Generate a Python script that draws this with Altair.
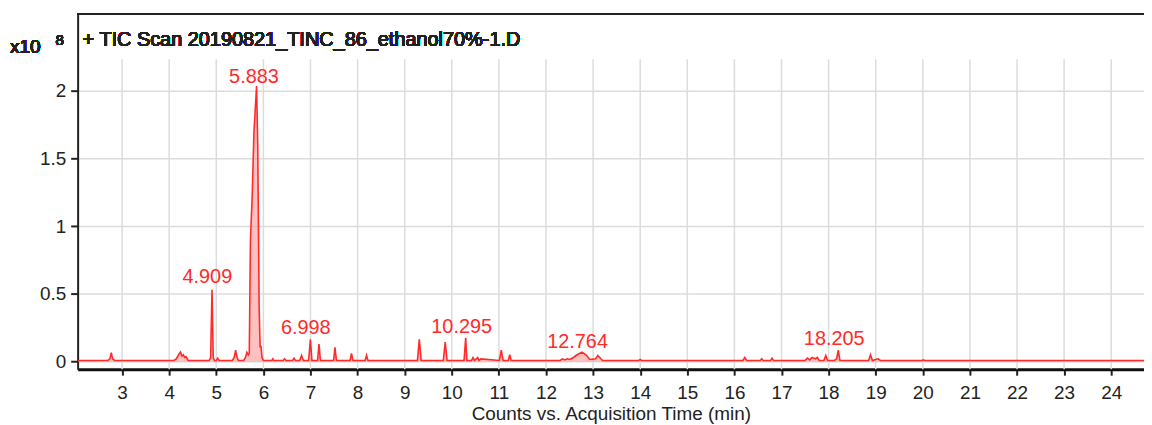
import altair as alt
import pandas as pd

B = 0.008
# chromatogram vertices (time in min, counts in units of 1e8)
trace_t = [2.06, 2.70, 2.74, 2.77, 2.80, 2.84,
           4.10, 4.15, 4.20, 4.24, 4.27, 4.30, 4.33, 4.36, 4.40,
           4.85, 4.88, 4.909, 4.935, 4.96,
           5.00, 5.03, 5.06,
           5.34, 5.38, 5.41, 5.44, 5.47,
           5.58, 5.62, 5.65, 5.68, 5.70, 5.725, 5.76, 5.80, 5.855, 5.88, 5.91, 5.93, 5.95, 5.97, 6.00,
           6.18, 6.20, 6.22, 6.42, 6.45, 6.48, 6.62, 6.65, 6.68, 6.77, 6.81, 6.85,
           6.96, 6.998, 7.03, 7.15, 7.18, 7.21, 7.49, 7.52, 7.55, 7.84, 7.87, 7.90, 8.16, 8.19, 8.22,
           9.27, 9.31, 9.35, 9.82, 9.86, 9.90, 10.26, 10.295, 10.32,
           10.42, 10.45, 10.48, 10.52, 10.55, 10.58, 10.62,
           11.01, 11.05, 11.09, 11.20, 11.23, 11.26,
           12.30, 12.35, 12.40, 12.45, 12.50, 12.58, 12.66, 12.764, 12.85, 12.93, 13.05, 13.10, 13.14, 13.20,
           13.97, 14.00, 14.03,
           16.18, 16.22, 16.26, 16.55, 16.58, 16.61, 16.77, 16.80, 16.83,
           17.50, 17.55, 17.60, 17.65, 17.72, 17.76, 17.80, 17.90, 17.94, 17.98, 18.12, 18.17, 18.205, 18.24,
           18.85, 18.89, 18.93, 19.00, 19.05, 19.10,
           19.98, 20.01, 20.04, 24.75]
trace_v = [B, B, 0.02, 0.066, 0.02, B,
           B, 0.02, 0.05, 0.07, 0.04, 0.05, 0.03, 0.035, B,
           B, 0.03, 0.531, 0.03, B,
           B, 0.025, B,
           B, 0.03, 0.085, 0.03, B,
           B, 0.03, 0.068, 0.05, 0.06, 0.898, 1.2, 1.7, 2.036, 1.6, 0.4, 0.11, 0.11, 0.03, B,
           B, 0.02, B, B, 0.02, B, B, 0.025, B, B, 0.045, B,
           B, 0.164, B, B, 0.13, B, B, 0.105, B, B, 0.06, B, B, 0.046, B,
           B, 0.164, B, B, 0.144, B, B, 0.176, B,
           B, 0.03, B, 0.02, 0.03, B, 0.02,
           B, 0.085, B, B, 0.05, B,
           B, 0.02, 0.012, 0.02, 0.015, 0.03, 0.05, 0.07, 0.05, 0.015, 0.02, 0.045, 0.03, B,
           B, 0.015, B,
           B, 0.03, B, B, 0.02, B, B, 0.025, B,
           B, 0.025, 0.012, 0.03, 0.02, 0.03, B, B, 0.045, B, B, 0.02, 0.085, B,
           B, 0.05, B, 0.015, 0.02, B,
           B, 0.012, B, B]

label_text = ["5.883", "4.909", "6.998", "10.295", "12.764", "18.205"]
label_t = [5.80, 4.81, 6.90, 10.21, 12.67, 18.12]
label_v = [2.058, 0.582, 0.20, 0.213, 0.103, 0.12]

x_ticks = list(range(3, 25))
y_ticks = [0, 0.5, 1, 1.5, 2]
GRID_TOP = 2.234
X_DOM = [2.056, 24.696]
Y_DOM = [-0.0565, 2.567]

W, H = 1072, 357
FONT = "Liberation Sans"

trace = pd.DataFrame({"t": trace_t, "v": trace_v})
labels = pd.DataFrame({"t": label_t, "v": label_v, "txt": label_text})
grid = pd.DataFrame({"t": x_ticks, "top": [GRID_TOP] * len(x_ticks), "bot": [Y_DOM[0]] * len(x_ticks)})

xs = alt.Scale(domain=X_DOM, nice=False, zero=False)
ys = alt.Scale(domain=Y_DOM, nice=False, zero=False)

xaxis = alt.Axis(values=x_ticks, grid=False, title="Counts vs. Acquisition Time (min)",
                 labelFont=FONT, labelFontSize=19, labelColor="#222", labelFontWeight="normal",
                 titleFont=FONT, titleFontSize=19, titleFontWeight="normal", titleColor="#222",
                 tickColor="#222", tickSize=6, tickWidth=2, domainColor="#111", domainWidth=3,
                 labelPadding=8, titlePadding=3)
yaxis = alt.Axis(values=y_ticks, format="~g", grid=True, gridColor="#dcdcdc", gridWidth=1.5, title=None,
                 labelFont=FONT, labelFontSize=19, labelColor="#222", labelFontWeight="normal",
                 tickColor="#222", tickSize=7, tickWidth=2, domainColor="#222", domainWidth=2,
                 labelPadding=5)

vgrid = alt.Chart(grid).mark_rule(color="#dcdcdc", strokeWidth=1.5).encode(
    x=alt.X("t:Q", scale=xs, axis=xaxis),
    y=alt.Y("top:Q", scale=ys, axis=yaxis),
    y2="bot:Q")

area = alt.Chart(trace).mark_area(color="#ff8c8c", opacity=0.55, clip=True).encode(
    x=alt.X("t:Q", scale=xs), y=alt.Y("v:Q", scale=ys))
line = alt.Chart(trace).mark_line(color="#ff2a2a", strokeWidth=1.6, clip=True).encode(
    x=alt.X("t:Q", scale=xs), y=alt.Y("v:Q", scale=ys))

txt = alt.Chart(labels).mark_text(color="#ff2a2a", font=FONT, fontSize=20, align="center",
                                  baseline="alphabetic").encode(
    x=alt.X("t:Q", scale=xs), y=alt.Y("v:Q", scale=ys), text="txt:N")

top_rule = alt.Chart(trace).mark_rule(color="#222", strokeWidth=2).encode(
    x=alt.value(0), x2=alt.value(W), y=alt.value(0))

title_txt = alt.Chart(trace).mark_text(text="+ TIC Scan 20190821_TINC_86_ethanol70%-1.D", font=FONT,
                                       fontSize=20, color="#222", align="left", baseline="middle").encode(
    x=alt.value(5), y=alt.value(26))
x10 = alt.Chart(trace).mark_text(text="x10", font=FONT, fontSize=19, color="#222",
                                 align="left", baseline="middle").encode(
    x=alt.value(-68), y=alt.value(33))
exp8 = alt.Chart(trace).mark_text(text="8", font=FONT, fontSize=15, color="#222",
                                  align="center", baseline="middle").encode(
    x=alt.value(-18), y=alt.value(26))

chart = alt.layer(vgrid, area, line, txt, top_rule, title_txt, x10, exp8).properties(
    width=W, height=H,
    autosize=alt.AutoSizeParams(type="none"),
    padding={"left": 70, "top": 5, "right": 0, "bottom": 54},
).configure_view(stroke=None).configure(background="white")

chart.save("out.html", embed_options={"renderer": "svg", "actions": False})
